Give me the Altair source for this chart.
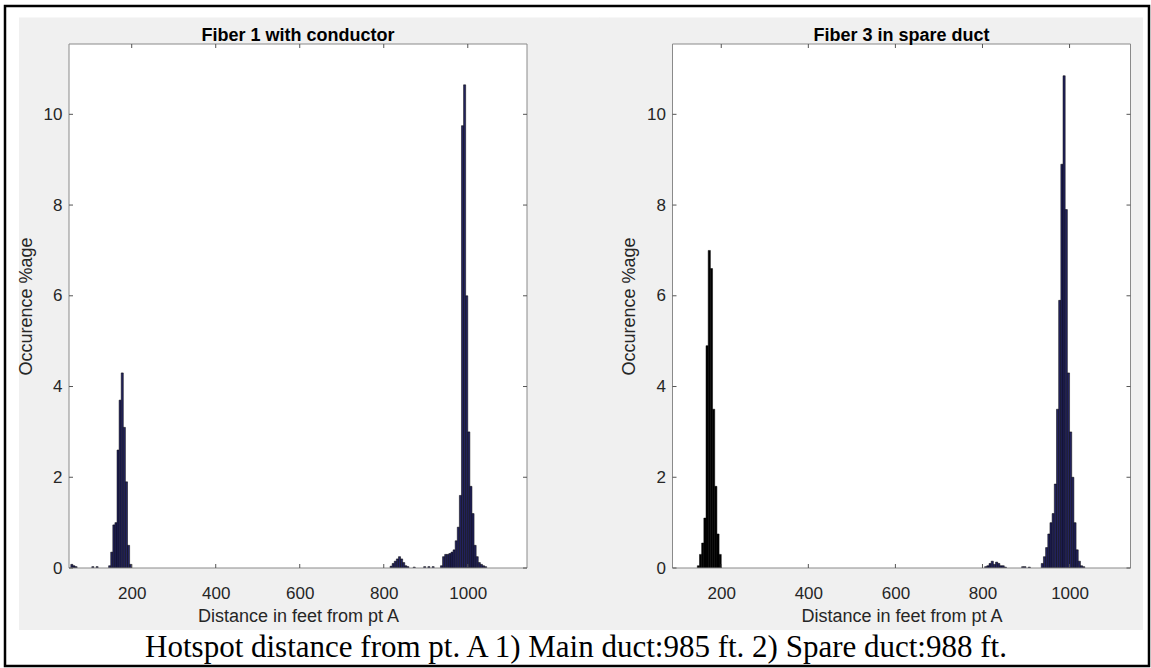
import altair as alt
import pandas as pd

# ---------------- data ----------------
BIN_W = 5
f1_bin_start = [55, 60, 65, 105, 115,
                145, 150, 155, 160, 165, 170, 175, 180, 185, 190, 195,
                815, 820, 825, 830, 835, 840, 845, 850, 855, 870, 895, 905, 915,
                935, 940, 945, 950, 955, 960, 965, 970, 975, 980, 985, 990, 995,
                1000, 1005, 1010, 1015, 1020, 1025, 1030, 1035, 1040]
f1_occ = [0.08, 0.05, 0.03, 0.03, 0.03,
          0.05, 0.35, 0.95, 1.0, 2.6, 3.7, 4.3, 3.1, 1.9, 0.5, 0.08,
          0.04, 0.1, 0.15, 0.2, 0.25, 0.2, 0.12, 0.05, 0.03, 0.02, 0.03, 0.03, 0.03,
          0.05, 0.25, 0.3, 0.3, 0.32, 0.35, 0.4, 0.6, 0.9, 1.6, 9.75, 10.65, 6.0,
          3.0, 1.8, 1.2, 0.5, 0.25, 0.12, 0.08, 0.05, 0.03]

f3_bin_start = [145, 150, 155, 160, 165, 170, 175, 180, 185, 190, 195,
                805, 810, 815, 820, 825, 830, 835, 840, 845, 850, 890, 895, 905,
                935, 940, 945, 950, 955, 960, 965, 970, 975, 980, 985, 990, 995,
                1000, 1005, 1010, 1015, 1020, 1025, 1030]
f3_occ = [0.05, 0.3, 0.55, 1.1, 4.9, 7.0, 6.6, 3.5, 1.8, 0.75, 0.3,
          0.03, 0.05, 0.1, 0.15, 0.08, 0.13, 0.1, 0.05, 0.05, 0.02, 0.03, 0.03, 0.02,
          0.1, 0.25, 0.45, 0.75, 1.0, 1.2, 1.85, 3.5, 5.9, 8.9, 10.85, 7.9, 4.3,
          3.0, 2.0, 1.0, 0.4, 0.15, 0.05, 0.03]

x_ticks = [200, 400, 600, 800, 1000]
y_ticks = [0, 2, 4, 6, 8, 10]
panel_titles = ["Fiber 1 with conductor", "Fiber 3 in spare duct"]
x_title = "Distance in feet from pt A"
y_title = "Occurence %age"
caption = "Hotspot distance from pt. A 1) Main duct:985 ft. 2) Spare duct:988 ft."
x_domains = [[50.7, 1141], [88, 1140]]
y_max = 11.55

# ---------------- layout / style ----------------
W, H = 458, 524
SPACING = 145.5
GRAY = "#f0f0f0"
NAVY = "#23235f"
FRAME = "#8a8a8a"
TXT = "#262626"
SANS = "Liberation Sans"
SERIF = "Liberation Serif"


def one_row():
    return pd.DataFrame({"k": [0]})


def panel(bins, occ, title, xdom, gray_x1, gray_x2, dark_spike, extras):
    df = pd.DataFrame({"start": bins, "occ": occ})
    xs = alt.Scale(domain=xdom, nice=False, zero=False)
    ys = alt.Scale(domain=[0, y_max], nice=False, zero=True)
    xax = alt.Axis(values=x_ticks, format="d", grid=False, domain=False, ticks=False, tickSize=0,
                   labelFont=SANS, labelFontSize=17, labelColor=TXT, labelPadding=17,
                   title=x_title, titleFont=SANS, titleFontSize=18,
                   titleFontWeight="normal", titleColor=TXT, titlePadding=6, zindex=1)
    yax = alt.Axis(values=y_ticks, format="d", grid=False, domain=False, ticks=False, tickSize=0,
                   labelFont=SANS, labelFontSize=17, labelColor=TXT, labelPadding=7,
                   title=y_title, titleFont=SANS, titleFontSize=18,
                   titleFontWeight="normal", titleColor=TXT, titlePadding=8, zindex=1)

    gray = alt.Chart(one_row()).mark_rect(fill=GRAY).encode(
        x=alt.value(gray_x1), x2=alt.value(gray_x2),
        y=alt.value(-26.5), y2=alt.value(586))
    white = alt.Chart(one_row()).mark_rect(fill="white").encode(
        x=alt.value(0), x2=alt.value(W), y=alt.value(0), y2=alt.value(H))

    if dark_spike:
        fill = alt.condition("datum.start < 300", alt.value("#000000"), alt.value(NAVY))
    else:
        fill = alt.value(NAVY)
    bars = alt.Chart(df).transform_calculate(end=f"datum.start + {BIN_W}").mark_rect(
        stroke="#000000", strokeWidth=0.5, clip=True).encode(
        x=alt.X("start:Q", scale=xs, axis=xax),
        x2="end:Q",
        y=alt.Y("occ:Q", scale=ys, axis=yax),
        y2=alt.datum(0),
        fill=fill)

    frame = alt.Chart(one_row()).mark_rect(filled=False, stroke=FRAME, strokeWidth=1).encode(
        x=alt.value(0), x2=alt.value(W), y=alt.value(0), y2=alt.value(H))

    xt = pd.DataFrame({"t": x_ticks})
    yt = pd.DataFrame({"t": y_ticks})
    xtick_b = alt.Chart(xt).mark_rule(color="#555555").encode(
        x=alt.X("t:Q", scale=xs, title=x_title), y=alt.value(H - 4), y2=alt.value(H))
    xtick_t = alt.Chart(xt).mark_rule(color="#555555").encode(
        x=alt.X("t:Q", scale=xs, title=x_title), y=alt.value(0), y2=alt.value(4))
    ytick_l = alt.Chart(yt).mark_rule(color="#555555").encode(
        y=alt.Y("t:Q", scale=ys, title=y_title), x=alt.value(0), x2=alt.value(4))
    ytick_r = alt.Chart(yt).mark_rule(color="#555555").encode(
        y=alt.Y("t:Q", scale=ys, title=y_title), x=alt.value(W - 4), x2=alt.value(W))

    ttl = alt.Chart(pd.DataFrame({"s": [title]})).mark_text(
        font=SANS, fontSize=18, fontWeight="bold", color="#000000",
        baseline="alphabetic", align="center").encode(
        text="s:N", x=alt.value(W / 2), y=alt.value(-3))

    layers = [gray, white, bars, frame, xtick_b, xtick_t, ytick_l, ytick_r, ttl] + extras
    return alt.layer(*layers).properties(width=W, height=H)


# outer black border and caption live in the left panel's coordinate space
border = alt.Chart(one_row()).mark_rect(filled=False, stroke="#000000", strokeWidth=2.5).encode(
    x=alt.value(-64), x2=alt.value(1080), y=alt.value(-38), y2=alt.value(622))
cap = alt.Chart(pd.DataFrame({"s": [caption]})).mark_text(
    font=SERIF, fontSize=31, color="#000000", baseline="middle", align="center").encode(
    text="s:N", x=alt.value(507), y=alt.value(604))

left = panel(f1_bin_start, f1_occ, panel_titles[0], x_domains[0],
             -50, 531, False, [border, cap])
right = panel(f3_bin_start, f3_occ, panel_titles[1], x_domains[1],
              -73, 470.5, True, [])

chart = alt.hconcat(left, right, spacing=SPACING, bounds="flush").properties(
    padding={"left": 3, "top": 4, "right": 0, "bottom": 0},
    background="white",
).configure_view(strokeWidth=0)

chart.save("out.html", embed_options={"renderer": "svg", "actions": False})
